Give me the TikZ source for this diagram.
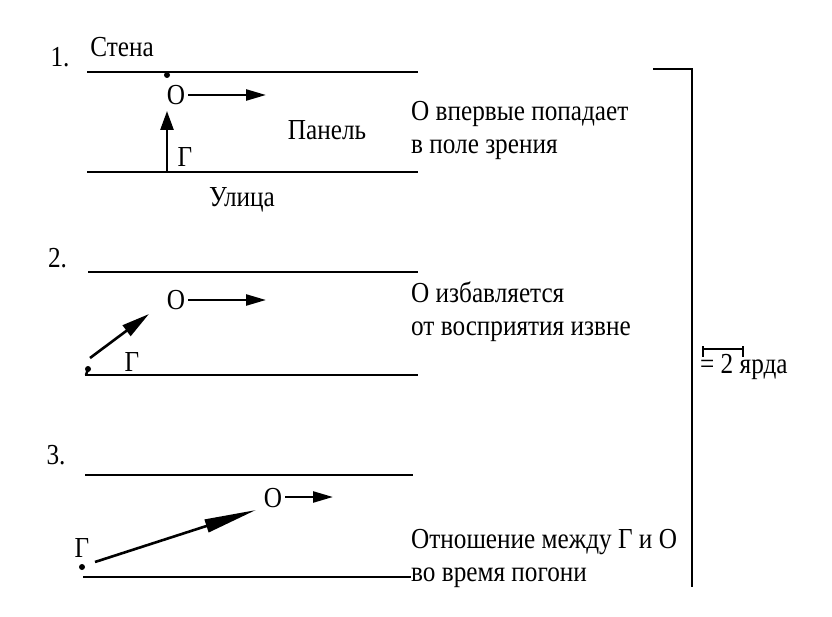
\documentclass[tikz,border=0pt]{standalone}
\usepackage{fontspec}
\setmainfont{Liberation Serif}[FakeStretch=0.87]
\usetikzlibrary{arrows.meta}

\begin{document}
\begin{tikzpicture}[x=1pt,y=-1pt,
  lbl/.style={inner sep=0pt,font=\fontsize{29}{33}\selectfont},
  road/.style={line width=2.8pt},
  run/.style={line width=2.4pt,-{Triangle[length=20pt,width=11pt]}},
  look/.style={line width=2.6pt,-{Triangle[length=#1,width=13pt]}},
  spot/.style={circle,fill,inner sep=0pt,minimum size=6pt}]
\useasboundingbox (0,0) rectangle (832,617);
% 1.
\node[lbl] (num1) at (60,57) {1.};
\node[lbl] (wall) at (122,47) {Стена};
\draw[road] (87,72) -- (418,72);
\draw[road] (87,172) -- (418,172);
\node[spot] (dot1) at (167,75) {};
\node[lbl] (o1) at (176,95) {О};
\coordinate (o1end) at (266,95);
\draw[run] (o1.east) ++(3,0) -- (o1end);
\coordinate (g1start) at (167,172);
\coordinate (g1end) at (167,111);
\draw[look=19pt] (g1start) -- (g1end);
\node[lbl] (g1) at (185,157) {Г};
\node[lbl] (panel) at (327,130) {Панель};
\node[lbl] (street) at (242,200) {Улица};
\node[lbl,anchor=west,align=left] (text1) at (411,130) {О впервые попадает\\в поле зрения};
% 2.
\node[lbl] (num2) at (57.5,258) {2.};
\draw[road] (88,272) -- (418,272);
\draw[road] (85,375) -- (418,375);
\node[spot] (dot2) at (88,369) {};
\draw[line width=2.4pt] (dot2.center) -- (86,375);
\coordinate (g2start) at (90,358);
\coordinate (g2end) at (149,314);
\draw[look=28pt] (g2start) -- (g2end);
\node[lbl] (g2) at (132,362) {Г};
\node[lbl] (o2) at (176,300) {О};
\coordinate (o2end) at (266,300);
\draw[run] (o2.east) ++(3,0) -- (o2end);
\node[lbl,anchor=west,align=left] (text2) at (411,312) {О избавляется\\от восприятия извне};
% 3.
\node[lbl] (num3) at (56,455) {3.};
\draw[road] (85,475) -- (413,475);
\draw[road] (83,577) -- (411,577);
\node[spot] (dot3) at (82,567) {};
\node[lbl] (g3) at (82,548) {Г};
\coordinate (g3start) at (95,562);
\coordinate (g3end) at (256,510);
\draw[look=52pt] (g3start) -- (g3end);
\node[lbl] (o3) at (273,498) {О};
\coordinate (o3end) at (333,497);
\draw[run] (o3.east) ++(3,-1) -- (o3end);
\node[lbl,anchor=west,align=left] (text3) at (411,558) {Отношение между Г и О\\во время погони};
% scale
\draw[road] (653,69) -- (692,69) -- (692,587);
\coordinate (barl) at (703,349);
\coordinate (barr) at (743,349);
\draw[line width=1.8pt] (barl) -- (barr);
\draw[line width=1.8pt] (barl) ++(0,-3) -- ++(0,11);
\draw[line width=1.8pt] (barr) ++(0,-3) -- ++(0,11);
\node[lbl,anchor=west] (yards) at (700,367) {= 2 ярда};
\end{tikzpicture}
\end{document}
